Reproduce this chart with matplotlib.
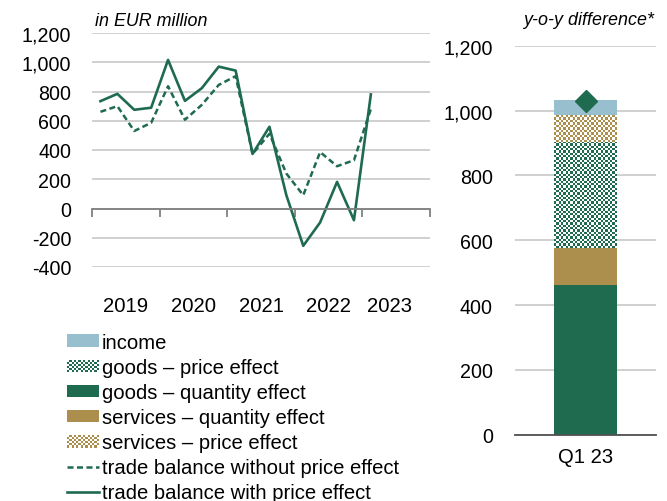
import numpy as np
import matplotlib
matplotlib.use("Agg")
import matplotlib.pyplot as plt
from matplotlib.patches import Patch, Rectangle
from matplotlib.lines import Line2D
from matplotlib.colors import ListedColormap
from matplotlib.legend_handler import HandlerBase
from matplotlib.ticker import FuncFormatter, FixedLocator

plt.rcParams['font.family'] = ['Liberation Sans', 'DejaVu Sans']

# ---------------- data ----------------
quarters = ['Q1 19', 'Q2 19', 'Q3 19', 'Q4 19', 'Q1 20', 'Q2 20', 'Q3 20', 'Q4 20',
            'Q1 21', 'Q2 21', 'Q3 21', 'Q4 21', 'Q1 22', 'Q2 22', 'Q3 22', 'Q4 22', 'Q1 23']
with_price = [734, 784, 675, 689, 1016, 736, 823, 970, 943, 373, 559, 91, -255, -95, 182, -80, 780]
without_price = [661, 700, 530, 586, 836, 607, 709, 845, 905, 373, 511, 239, 91, 386, 289, 330, 680]
year_labels = ['2019', '2020', '2021', '2022', '2023']

bar_category = ['Q1 23']
goods_quantity = [463]
services_quantity = [113]
goods_price = [328]
services_price = [81]
income = [48]
total_diff = [1030]

# ---------------- style ----------------
GREEN = '#1F6B4F'
TAN = '#AC8F4C'
BLUE = '#98BFCE'
GRID = '#C8C8C8'
W, H = 667, 502
fig = plt.figure(figsize=(W / 100, H / 100), dpi=100)

def frac(l, t, r, b):
    return [l / W, 1 - b / H, (r - l) / W, (b - t) / H]

FS_Y = 14.1
FS_X = 14.6
FS_LEG = 14.6
FS_T = 12.9

# ---------------- left line chart ----------------
ax = fig.add_axes(frac(92, 34, 430, 268))
x = np.arange(len(quarters)) + 0.5
ax.plot(x, without_price, color=GREEN, lw=1.8, dashes=(2.4, 1.4))
ax.plot(x, with_price, color=GREEN, lw=1.9)
ax.set_xlim(0, 20)
ax.set_ylim(-400, 1200)
ax.set_yticks(np.arange(-400, 1201, 200))
ax.yaxis.set_major_formatter(FuncFormatter(lambda v, p: f"{v:,.0f}"))
ax.tick_params(axis='y', length=0, pad=15, labelsize=FS_Y)
ax.grid(axis='y', color=GRID, lw=1.2)
ax.set_axisbelow(True)
for s in ['top', 'right', 'left']:
    ax.spines[s].set_visible(False)
ax.spines['bottom'].set_position(('data', 0))
ax.spines['bottom'].set_color('#808080')
ax.spines['bottom'].set_linewidth(1.3)
ax.xaxis.set_major_locator(FixedLocator([0, 4, 8, 12, 16, 20]))
ax.xaxis.set_minor_locator(FixedLocator([2, 6, 10, 14, 17.6]))
ax.set_xticklabels([], minor=False)
ax.set_xticklabels(year_labels, minor=True)
ax.tick_params(axis='x', which='major', length=6, width=1.3, color='#808080', direction='out')
ax.tick_params(axis='x', which='minor', length=0, pad=63, labelsize=FS_X)
ax.text(3 / 338, 1 + 7.5 / 234, 'in EUR million', transform=ax.transAxes, fontsize=FS_T,
        style='italic', ha='left', va='baseline')

# ---------------- right bar chart ----------------
bx = fig.add_axes(frac(515, 46.7, 656, 435.7))
bx.set_xlim(-0.5, 0.5)
bx.set_ylim(0, 1200)
bw = 0.44
xb = np.arange(len(bar_category))
layers = [
    (goods_quantity, GREEN, False),
    (services_quantity, TAN, False),
    (goods_price, GREEN, True),
    (services_price, TAN, True),
    (income, BLUE, False),
]
bottom = np.zeros(len(bar_category))
cell_px = 2.3
for vals, col, checker in layers:
    vals = np.array(vals, dtype=float)
    bars = bx.bar(xb, vals, bw, bottom=bottom, color='white' if checker else col,
                  edgecolor='none', zorder=2)
    if checker:
        for rect in bars:
            x0, y0 = rect.get_x(), rect.get_y()
            x1, y1 = x0 + rect.get_width(), y0 + rect.get_height()
            p0 = bx.transData.transform((x0, y0))
            p1 = bx.transData.transform((x1, y1))
            nx = max(1, int(round(abs(p1[0] - p0[0]) / cell_px)))
            ny = max(1, int(round(abs(p1[1] - p0[1]) / cell_px)))
            ii, jj = np.indices((ny, nx))
            pat = ((ii + jj) % 2).astype(float)
            im = bx.imshow(pat, extent=(x0, x1, y0, y1), origin='lower',
                           cmap=ListedColormap(['white', col]), vmin=0, vmax=1,
                           interpolation='nearest', aspect='auto', zorder=3)
            im.set_clip_path(rect)
    bottom = bottom + vals
bx.plot(xb, total_diff, marker='D', ms=11, color=GREEN, ls='none', zorder=5)
bx.set_xlim(-0.5, 0.5)
bx.set_ylim(0, 1200)
bx.set_xticks(xb)
bx.set_xticklabels(bar_category)
bx.set_yticks(np.arange(0, 1201, 200))
bx.yaxis.set_major_formatter(FuncFormatter(lambda v, p: f"{v:,.0f}"))
bx.tick_params(axis='y', length=0, pad=16, labelsize=FS_Y)
bx.tick_params(axis='x', length=0, pad=9, labelsize=FS_X)
bx.grid(axis='y', color=GRID, lw=1.2)
bx.set_axisbelow(True)
for s in ['top', 'right', 'left']:
    bx.spines[s].set_visible(False)
bx.spines['bottom'].set_color('#505050')
bx.spines['bottom'].set_linewidth(1.3)
bx.spines['bottom'].set_zorder(6)
bx.text(1.0 - 2 / 141, 1.0 + 21.7 / 389, 'y-o-y difference*', transform=bx.transAxes,
        fontsize=FS_T, style='italic', ha='right', va='baseline')

# ---------------- legend ----------------
class CheckerHandler(HandlerBase):
    def __init__(self, cell_pt):
        super().__init__()
        self.cell = cell_pt

    def create_artists(self, legend, orig_handle, xdescent, ydescent, width, height,
                       fontsize, trans):
        fc = orig_handle.get_facecolor()
        nx = max(1, int(round(width / self.cell)))
        ny = max(1, int(round(height / self.cell)))
        cw, ch = width / nx, height / ny
        arts = [Rectangle((-xdescent, -ydescent), width, height, facecolor='white',
                          edgecolor='none', transform=trans)]
        for i in range(nx):
            for j in range(ny):
                if (i + j) % 2 == 0:
                    arts.append(Rectangle((-xdescent + i * cw, -ydescent + j * ch), cw, ch,
                                          facecolor=fc, edgecolor='none', lw=0,
                                          transform=trans))
        return arts

h_income = Patch(facecolor=BLUE, edgecolor='none', label='income')
h_gp = Patch(facecolor=GREEN, edgecolor='none', label='goods – price effect')
h_gq = Patch(facecolor=GREEN, edgecolor='none', label='goods – quantity effect')
h_sq = Patch(facecolor=TAN, edgecolor='none', label='services – quantity effect')
h_sp = Patch(facecolor=TAN, edgecolor='none', label='services – price effect')
h_wo = Line2D([], [], color=GREEN, lw=1.8, dashes=(2.4, 1.4), label='trade balance without price effect')
h_w = Line2D([], [], color=GREEN, lw=1.9, label='trade balance with price effect')
handles = [h_income, h_gp, h_gq, h_sq, h_sp, h_wo, h_w]
ch = CheckerHandler(cell_px * 72 / 100)
leg = fig.legend(handles=handles, loc='upper left', bbox_to_anchor=(67 / W, 1 - 334 / H),
                 frameon=False, fontsize=FS_LEG, handlelength=1.58, handleheight=0.59,
                 handletextpad=0.15, labelspacing=0.3, borderpad=0, borderaxespad=0,
                 handler_map={h_gp: ch, h_sp: ch})

fig.savefig('out.png', dpi=100)
